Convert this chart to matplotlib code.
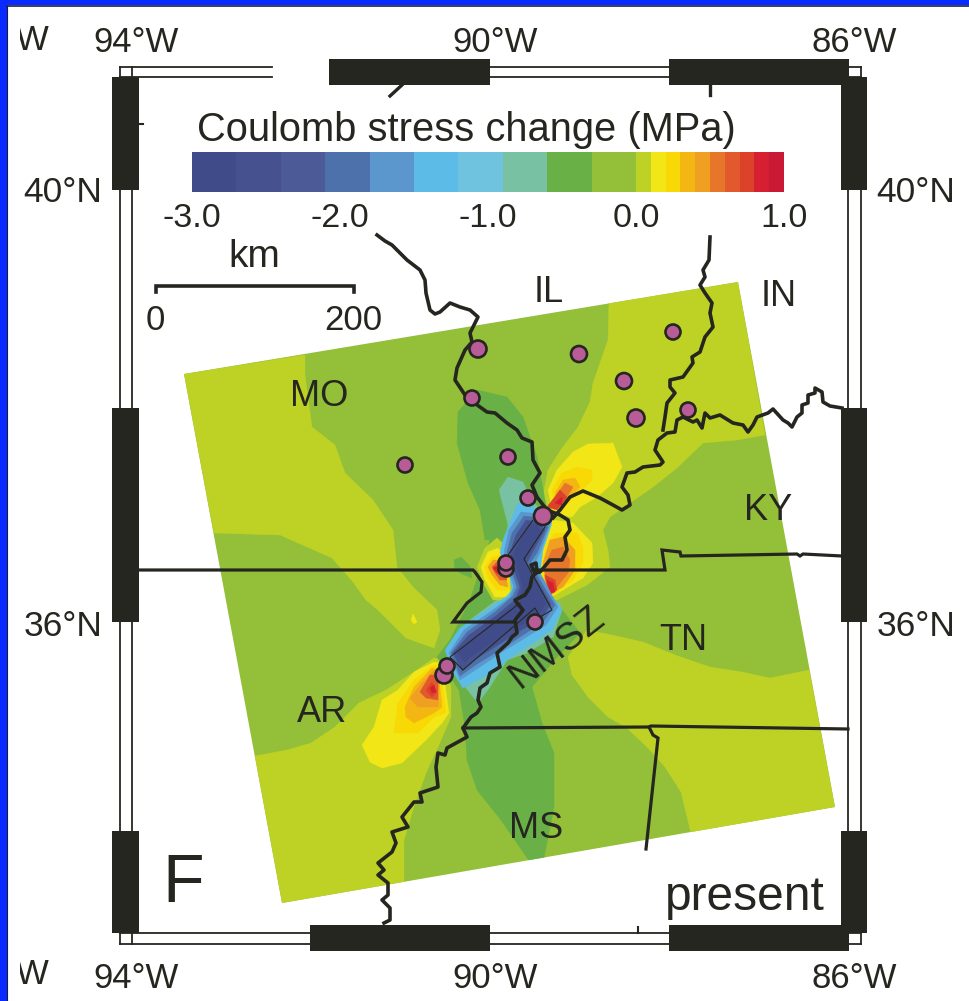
#!/usr/bin/env python3
import matplotlib
matplotlib.use("Agg")
import matplotlib.pyplot as plt
import numpy as np

plt.rcParams['font.family'] = ['Liberation Sans', 'DejaVu Sans']
INK = '#25261f'

# colour scale (MPa)
levels = [-3.0, -2.7, -2.4, -2.1, -1.8, -1.5, -1.2, -0.9, -0.6, -0.3, 0.0,
          0.1, 0.2, 0.3, 0.4, 0.5, 0.6, 0.7, 0.8, 0.9, 1.0]
level_colors = ['#404b89', '#46528f', '#4c5b98', '#4d72ab', '#5b97cc', '#5dbce7', '#70c3df',
                '#78c1a2', '#69b146', '#93bf39', '#bed226', '#f2e616', '#f9d905', '#f3b612',
                '#ef9f22', '#e7762a', '#e2592e', '#dc4229', '#d61f30', '#c91a35']
cbar_ticks = [-3.0, -2.0, -1.0, 0.0, 1.0]

# model area, image pixel coordinates
model_area = [(184, 374), (738, 282), (835, 807), (282, 903)]

# contours: (level index, outline), painted in order
contours = [
    # yellow-green, north-west
    (10, [(184, 374), (305, 355), (305, 375), (312, 427), (335, 445), (345, 473), (373, 500), (393, 530),
          (397, 567), (413, 587), (437, 610), (440, 630), (434, 648), (406, 638), (378, 610), (366, 600),
          (353, 582), (332, 558), (280, 535), (214, 533)]),
    # yellow-green, north-east
    (10, [(609, 303), (608, 340), (593, 383), (590, 402), (578, 427), (562, 448), (548, 470), (544, 490),
          (540, 530), (533, 570), (545, 600), (557, 600), (587, 585), (610, 567), (608, 550), (603, 530),
          (610, 517), (653, 487), (677, 468), (703, 443), (737, 440), (765, 435), (738, 282)]),
    # yellow-green, south-east
    (10, [(568, 657), (572, 675), (588, 697), (608, 717), (627, 728), (647, 747), (665, 767), (681, 792),
          (691, 833), (835, 807), (809, 670), (770, 678), (742, 672), (710, 667), (675, 655), (643, 642),
          (612, 635), (587, 630)]),
    # yellow-green, south-west
    (10, [(255, 756), (287, 750), (311, 743), (335, 727), (359, 703), (386, 690), (414, 672), (434, 658),
          (442, 660), (451, 687), (451, 717), (438, 747), (426, 773), (414, 807), (404, 840), (404, 882),
          (282, 903)]),
    # small yellow spot
    (11, [(411, 620), (413, 614), (417, 622), (414, 624)]),
    # dark green, north
    (8, [(458, 412), (477, 390), (507, 397), (523, 417), (537, 457), (540, 473), (545, 500), (550, 520),
         (540, 560), (545, 590), (560, 607), (580, 633), (557, 657), (532, 687), (542, 723), (554, 753),
         (554, 807), (544, 858), (530, 862), (501, 820), (477, 790), (467, 760), (465, 727), (459, 690),
         (437, 657), (450, 640), (470, 600), (490, 540), (485, 540), (480, 510), (468, 483), (457, 443)]),
    # dark green spot west of the border
    (8, [(454, 560), (461, 557), (470, 566), (472, 578), (462, 574), (455, 570)]),
    # teal, north and south of the fault
    (7, [(499, 490), (508, 477), (523, 482), (530, 497), (540, 510), (530, 540), (505, 547), (508, 525)]),
    (7, [(560, 603), (562, 610), (553, 637), (527, 653), (507, 660), (490, 687), (478, 703), (462, 683),
         (457, 667), (448, 650), (470, 620), (510, 590)]),
    # blob around the upper fault
    (10, [(477, 567), (485, 548), (497, 538), (507, 547), (513, 583), (510, 600), (493, 600), (483, 583)]),
    (11, [(481, 567), (488, 552), (498, 548), (508, 560), (510, 597), (495, 597), (485, 580)]),
    (12, [(485, 567), (492, 557), (500, 555), (510, 573), (508, 590), (497, 590), (488, 578)]),
    (14, [(488, 567), (493, 560), (502, 560), (508, 587), (500, 585), (492, 575)]),
    (16, [(492, 567), (497, 562), (505, 567), (507, 580), (500, 580), (495, 573)]),
    (18, [(493, 568), (498, 565), (502, 575), (497, 573)]),
    # blob north-east of the fault
    (11, [(548, 490), (557, 470), (573, 452), (588, 444), (613, 443), (622, 467), (613, 483), (597, 497),
          (580, 507), (572, 517), (553, 513)]),
    (12, [(552, 490), (562, 473), (577, 467), (592, 470), (592, 480), (580, 492), (567, 503), (557, 510)]),
    (13, [(555, 493), (563, 480), (575, 478), (580, 487), (570, 497), (560, 508)]),
    (15, [(558, 493), (565, 483), (573, 487), (565, 500), (558, 507)]),
    (17, [(547, 507), (560, 490), (567, 497), (557, 510)]),
    (18, [(555, 503), (562, 497), (562, 505)]),
    # blob east of the fault
    (11, [(573, 523), (592, 543), (593, 563), (583, 578), (563, 590), (550, 598), (542, 587), (537, 570),
          (543, 533), (553, 520)]),
    (12, [(555, 533), (577, 533), (583, 547), (583, 563), (573, 580), (553, 595), (545, 587), (542, 567),
          (547, 543)]),
    (14, [(550, 540), (563, 537), (575, 550), (575, 570), (563, 587), (553, 592), (545, 580), (543, 563)]),
    (15, [(552, 550), (563, 547), (570, 560), (568, 573), (557, 587), (550, 587), (545, 577), (547, 560)]),
    (17, [(545, 575), (555, 580), (557, 590), (550, 595), (547, 587)]),
    (18, [(547, 580), (553, 583), (555, 592), (550, 593)]),
    # blob south-west of the fault
    (11, [(362, 745), (374, 727), (382, 700), (398, 690), (414, 672), (434, 662), (442, 663), (449, 713),
          (442, 723), (426, 740), (402, 763), (382, 768), (370, 762)]),
    (12, [(394, 733), (398, 703), (414, 680), (434, 665), (440, 667), (446, 713), (434, 717), (418, 733)]),
    (13, [(405, 707), (414, 687), (432, 668), (438, 670), (442, 707), (434, 713), (414, 723), (406, 717)]),
    (14, [(410, 698), (422, 683), (434, 670), (440, 673), (438, 707), (418, 707)]),
    (16, [(420, 692), (430, 675), (438, 675), (438, 700), (426, 698)]),
    (17, [(426, 690), (432, 682), (437, 692), (432, 697)]),
    (18, [(430, 688), (434, 685), (436, 692), (432, 693)]),
    # negative lobes along the fault
    (5, [(518, 503), (537, 508), (552, 523), (543, 550), (540, 573), (550, 593), (562, 610), (552, 630),
         (530, 645), (510, 658), (493, 672), (463, 688), (453, 672), (445, 650), (460, 628), (490, 608),
         (507, 596), (512, 590), (508, 567), (500, 553), (503, 540)]),
    (4, [(521, 512), (540, 514), (550, 525), (540, 553), (534, 565), (544, 580), (558, 607), (546, 625),
         (525, 638), (502, 652), (480, 667), (460, 680), (449, 653), (464, 630), (493, 610), (510, 597),
         (514, 587), (507, 567), (504, 552), (509, 530)]),
    (3, [(524, 516), (540, 518), (548, 527), (537, 553), (530, 563), (540, 580), (555, 605), (543, 622),
         (523, 635), (500, 650), (477, 664), (460, 676), (451, 653), (467, 632), (495, 612), (513, 596),
         (517, 587), (510, 567), (507, 552), (512, 533)]),
    (1, [(526, 520), (538, 522), (545, 530), (532, 553), (527, 563), (537, 580), (551, 604), (541, 619),
         (518, 632), (495, 647), (474, 660), (462, 671), (453, 653), (469, 635), (497, 615), (516, 599),
         (520, 587), (513, 567), (510, 553), (516, 535)]),
    (0, [(529, 524), (537, 525), (541, 531), (528, 552), (524, 562), (534, 578), (546, 603), (538, 615),
         (515, 628), (490, 644), (470, 657), (465, 662), (458, 653), (473, 638), (499, 618), (519, 601),
         (523, 587), (517, 567), (514, 553)]),
]

# fault planes, open outlines
fault_lines = [
    [(533, 520), (508, 555)],
    [(545, 527), (524, 559), (552, 610), (540, 617), (535, 608), (463, 670), (450, 657), (520, 603)],
]

# stations
station_x = [478, 579, 673, 624, 636, 688, 472, 405, 508, 528, 543, 506, 506, 535, 444, 447]
station_y = [349, 354, 332, 381, 418, 410, 398, 465, 457, 498, 516, 569, 563, 622, 675, 666]
station_d = [17, 16, 15, 16, 17, 15, 15, 15, 15, 15, 18, 15, 15, 15, 17, 15]

# rivers and state lines
mississippi = [(377, 235), (385, 241), (392, 245), (397, 250), (407, 260), (420, 270), (425, 280), (426, 293),
               (430, 310), (435, 314), (440, 312), (450, 303), (460, 307), (470, 310), (478, 317), (475, 323),
               (470, 333), (472, 342), (465, 350), (457, 368), (455, 380), (465, 395), (473, 402), (487, 412),
               (495, 413), (507, 423), (517, 430), (522, 438), (532, 442), (533, 460), (540, 473), (532, 485),
               (537, 497), (547, 510), (560, 515), (568, 520), (570, 530), (565, 537), (567, 550), (562, 560),
               (550, 560), (540, 572), (535, 573), (531, 565), (536, 563), (537, 572), (532, 577), (530, 587),
               (525, 595), (515, 600), (517, 603), (523, 610), (515, 620), (517, 633), (512, 637), (508, 643),
               (497, 653), (500, 667), (490, 673), (487, 683), (480, 688), (478, 700), (481, 707), (477, 713),
               (471, 717), (463, 728), (467, 737), (447, 748), (445, 755), (438, 753), (436, 767), (438, 787),
               (420, 793), (422, 802), (414, 802), (402, 817), (408, 827), (392, 832), (396, 843), (392, 852),
               (378, 863), (384, 870), (378, 875), (388, 883), (388, 895), (382, 900), (390, 908), (390, 920),
               (384, 923)]
ohio = [(553, 518), (560, 510), (570, 497), (583, 491), (600, 498), (613, 505), (622, 510), (630, 505),
        (628, 495), (622, 487), (627, 473), (635, 472), (643, 467), (660, 465), (663, 462), (655, 450),
        (658, 440), (667, 433), (675, 432), (677, 420), (683, 417), (693, 422), (697, 420), (702, 428),
        (705, 413), (710, 418), (720, 415), (733, 423), (743, 425), (748, 432), (753, 425), (757, 417),
        (768, 413), (773, 409), (783, 420), (788, 423), (792, 427), (797, 417), (802, 413), (802, 405),
        (808, 403), (808, 395), (815, 393), (815, 388), (822, 392), (823, 402), (830, 406), (842, 408)]
wabash = [(663, 430), (665, 417), (667, 403), (675, 393), (670, 387), (670, 380), (683, 377), (693, 363),
          (692, 357), (700, 352), (705, 337), (713, 327), (710, 313), (712, 303), (705, 293), (700, 285),
          (705, 277), (703, 270), (709, 260), (710, 237)]
mo_ar = [(139, 570), (473, 570), (475, 572), (482, 582), (481, 592), (467, 603), (453, 622), (513, 622)]
ky_tn = [(533, 570), (665, 570), (662, 550), (680, 552), (681, 556), (797, 554), (800, 556), (803, 554), (842, 556)]
ms_tn = [(463, 728), (649, 727), (651, 726), (848, 729)]
ms_al = [(649, 727), (653, 735), (658, 738), (646, 849)]

# frame: thick runs along each side
top_runs = [(329, 490), (669, 849)]
bottom_runs = [(310, 490), (669, 849)]
side_runs = [(77, 190), (408, 622), (831, 933)]

state_names = ['IL', 'IN', 'MO', 'KY', 'TN', 'AR', 'MS']
state_x = [549, 779, 319, 768, 683, 322, 536]
state_y = [293, 296, 396, 511, 641, 713, 829]

fig = plt.figure(figsize=(9.69, 10.01), dpi=100)
ax = fig.add_axes([0, 0, 1, 1])
ax.set_xlim(0, 969)
ax.set_ylim(1001, 0)
ax.axis('off')

# blue page border
ax.fill([0, 969, 969, 0], [0, 0, 5, 5], color='#0a2bff', lw=0, zorder=9)
ax.fill([0, 7, 7, 0], [0, 0, 1001, 1001], color='#0a2bff', lw=0, zorder=9)
ax.plot([7.5, 969], [5.5, 5.5], color='#1a1a40', lw=1.2, zorder=9)
ax.plot([7.5, 7.5], [5.5, 1001], color='#1a1a40', lw=0.8, zorder=9)

# model field
x, y = zip(*model_area)
ax.fill(x, y, color=level_colors[9], lw=0, zorder=1)
clip = plt.Polygon(model_area, transform=ax.transData)
for idx, outline in contours:
    x, y = zip(*outline)
    p = ax.fill(x, y, color=level_colors[idx], lw=0.3, zorder=2)[0]
    p.set_clip_path(clip)

for fault in fault_lines:
    x, y = zip(*fault)
    ax.plot(x, y, color=INK, lw=0.75, zorder=3)

for line in (mo_ar, ky_tn, ms_tn, ms_al):
    x, y = zip(*line)
    ax.plot(x, y, color=INK, lw=2.3, solid_joinstyle='miter', zorder=4)
for line in (mississippi, ohio, wabash):
    x, y = zip(*line)
    ax.plot(x, y, color=INK, lw=2.6, solid_joinstyle='round', zorder=4)

ax.scatter(station_x, station_y, s=[(d * 0.72) ** 2 for d in station_d], c='#b85c98',
           edgecolors=INK, linewidths=1.9, zorder=5)

# frame
for xv in (120, 132, 848, 861):
    ax.plot([xv, xv], [67, 944], color=INK, lw=1.3, zorder=6)
for yv in (67, 77):
    ax.plot([120, 272], [yv, yv], color=INK, lw=1.3, zorder=6)
    ax.plot([490, 669], [yv, yv], color=INK, lw=1.3, zorder=6)
    ax.plot([849, 861], [yv, yv], color=INK, lw=1.3, zorder=6)
for yv in (933, 944):
    ax.plot([120, 310], [yv, yv], color=INK, lw=1.3, zorder=6)
    ax.plot([490, 669], [yv, yv], color=INK, lw=1.3, zorder=6)
    ax.plot([849, 861], [yv, yv], color=INK, lw=1.3, zorder=6)
for a, b in top_runs:
    ax.fill([a, b, b, a], [59, 59, 85, 85], color=INK, lw=0, zorder=7)
for a, b in bottom_runs:
    ax.fill([a, b, b, a], [925, 925, 951, 951], color=INK, lw=0, zorder=7)
for a, b in side_runs:
    ax.fill([112, 139, 139, 112], [a, a, b, b], color=INK, lw=0, zorder=7)
    ax.fill([841, 867, 867, 841], [a, a, b, b], color=INK, lw=0, zorder=7)
ax.plot([139, 143], [124, 124], color=INK, lw=1.5, zorder=6)
ax.plot([390, 402], [96, 85], color=INK, lw=2.4, zorder=6)
ax.plot([710, 710], [85, 95], color=INK, lw=2.4, zorder=6)
ax.plot([638, 638], [927, 933], color=INK, lw=1.5, zorder=6)

# frame labels
for lab, xt in [('94°W', 136), ('90°W', 495), ('86°W', 854)]:
    ax.text(xt, 43, lab, fontsize=25, color=INK, ha='center', va='center')
    ax.text(xt, 978, lab, fontsize=25, color=INK, ha='center', va='center')
for lab, yt in [('40°N', 193), ('36°N', 626)]:
    ax.text(63, yt, lab, fontsize=25.5, color=INK, ha='center', va='center')
    ax.text(916, yt, lab, fontsize=25.5, color=INK, ha='center', va='center')
# W of the neighbouring panel, cut off at the left
ax.text(32, 41, 'W', fontsize=25, color=INK, ha='center', va='center', zorder=6)
ax.text(32, 975, 'W', fontsize=25, color=INK, ha='center', va='center', zorder=6)
ax.fill([7, 20, 20, 7], [6, 6, 1001, 1001], color='white', lw=0, zorder=8)

# colour bar title and scale bar
ax.text(466, 130, 'Coulomb stress change (MPa)', fontsize=28.7, color=INK, ha='center', va='center')
ax.text(254, 257, 'km', fontsize=28, color=INK, ha='center', va='center')
ax.plot([156, 156, 354, 354], [292, 285.5, 285.5, 292], color=INK, lw=2.6, solid_joinstyle='miter', zorder=6)
ax.text(155, 321, '0', fontsize=25, color=INK, ha='center', va='center')
ax.text(353, 321, '200', fontsize=25, color=INK, ha='center', va='center')

for name, xt, yt in zip(state_names, state_x, state_y):
    ax.text(xt, yt, name, fontsize=26, color=INK, ha='center', va='center', zorder=8)
ax.text(557, 647, 'NMSZ', fontsize=28, color=INK, ha='center', va='center', rotation=38, zorder=8)
ax.text(183, 884, 'F', fontsize=49, color=INK, ha='center', va='center', zorder=8)
ax.text(745, 897, 'present', fontsize=34.5, color=INK, ha='center', va='center', zorder=8)

# colour bar
cax = fig.add_axes([192 / 969, 1 - 192 / 1001, 592 / 969, 40 / 1001])
cax.bar(levels[:-1], np.ones(len(level_colors)), width=np.diff(levels), align='edge',
        color=level_colors, lw=0)
cax.set_xlim(levels[0], levels[-1])
cax.set_ylim(0, 1)
cax.set_yticks([])
cax.set_xticks(cbar_ticks)
cax.set_xticklabels(['%.1f' % t for t in cbar_ticks], fontsize=24.5, color=INK)
cax.tick_params(axis='x', length=0, pad=8)
for s in cax.spines.values():
    s.set_visible(False)

fig.savefig('out.png', dpi=100)
